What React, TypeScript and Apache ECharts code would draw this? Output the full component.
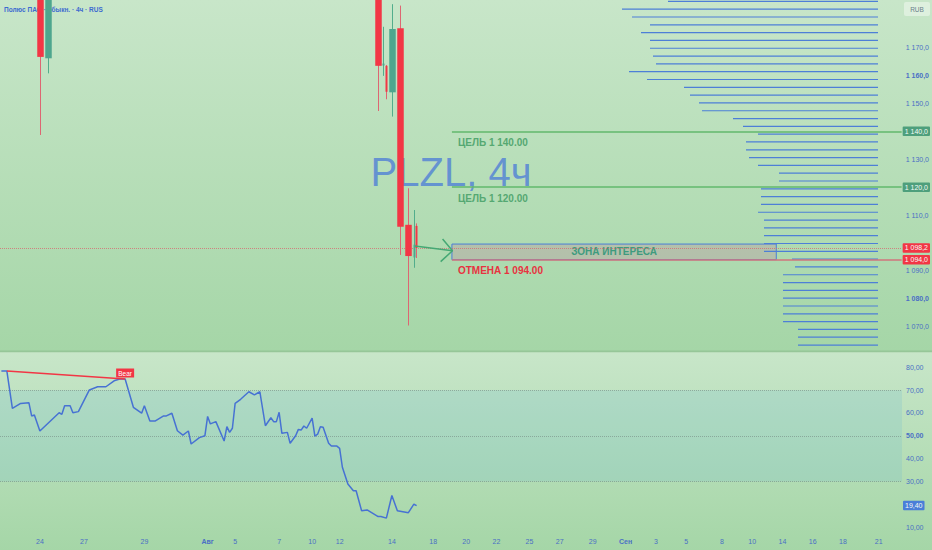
import React, { useEffect, useRef } from "react";
import * as echarts from "echarts";

const FONT = "'Liberation Sans', Arial, sans-serif";

// ---- time slots (4h bars) ----
const BAR_COUNT = 328;
const barSlots = Array.from({ length: BAR_COUNT }, (_, i) => `bar${i}`);
const dateLabels = ["24", "27", "29", "Авг", "5", "7", "10", "12", "14", "18", "20", "22", "25", "27", "29", "Сен", "3", "5", "8", "10", "14", "16", "18", "21"];
const dateLabelBars = [14, 30, 52, 75, 85, 101, 113, 123, 142, 157, 169, 180, 192, 203, 215, 227, 238, 249, 262, 273, 284, 295, 306, 319];
const boldDateLabels = ["Авг", "Сен"];

// ---- candles visible in the price window ----
const candleBars = [14, 17, 137, 139, 140, 142, 145, 148, 150, 151];
const candleOpen = [1195, 1166.2, 1193, 1163.6, 1163.5, 1154.0, 1177.0, 1106.5, 1094.8, 1106.1];
const candleClose = [1166.7, 1192, 1163.5, 1164.3, 1154.2, 1176.7, 1105.8, 1095.3, 1099.4, 1098.2];
const candleLow = [1138.7, 1160.8, 1147.3, 1159.9, 1151.5, 1145.3, 1095.7, 1070.4, 1091.1, 1094.6];
const candleHigh = [1205, 1198, 1197, 1177.5, 1163.8, 1185.6, 1185.1, 1119.6, 1111.8, 1107];
const thinCandleBars = [139, 140, 150, 151];

// ---- RSI ----
const rsiBars = [0, 2, 4, 7, 10, 11, 12, 14, 21, 22, 23, 25, 26, 28, 32, 35, 38, 41, 43, 45, 48, 51, 52, 54, 56, 59, 60, 62, 64, 66, 68, 69, 72, 74, 75, 76, 78, 81, 82, 83, 84, 85, 87, 90, 92, 94, 96, 98, 99, 100, 101, 102, 104, 105, 107, 108, 109, 110, 111, 113, 114, 115, 116, 117, 119, 120, 122, 123, 124, 126, 128, 129, 131, 133, 137, 138, 140, 142, 144, 148, 150, 151];
const rsiValues = [78.4, 78.4, 62.0, 64.2, 64.5, 58.7, 59.1, 52.1, 60.1, 59.4, 63.2, 63.2, 60.1, 60.6, 70.1, 71.5, 71.5, 74.1, 74.9, 74.9, 62.5, 59.9, 63.2, 56.5, 56.5, 58.7, 58.7, 59.9, 52.2, 50.3, 52.1, 46.4, 49.2, 50.0, 58.5, 55.2, 56.2, 47.7, 54.0, 51.5, 53.3, 64.2, 66.0, 69.3, 67.9, 69.3, 54.4, 57.9, 56.2, 56.2, 60.3, 51.1, 51.5, 46.7, 50.0, 52.8, 52.5, 54.3, 53.3, 57.7, 49.9, 50.7, 54.0, 53.7, 46.7, 45.5, 45.5, 44.5, 36.2, 28.9, 25.9, 25.9, 17.1, 17.5, 14.6, 14.6, 13.9, 23.8, 17.1, 16.3, 20.0, 19.4];
const bearBars = [2, 45];
const bearValues = [78.4, 74.9];
const lastRsi = 19.4;
const rsiTicks = [10, 30, 40, 50, 60, 70, 80];
const rsiLevels = [70, 50, 30];

// ---- price axis & drawings ----
const PRICE_MIN = 1060.9;
const PRICE_MAX = 1187.1;
const priceTicks = [1070, 1080, 1090, 1110, 1130, 1150, 1160, 1170];
const boldPriceTicks = [1160, 1080];
const targetPrices = [1140, 1120];
const stopPrice = 1094;
const lastPrice = 1098.2;
const zoneLow = 1094;
const zoneHigh = 1099.6;
const zoneFromBar = 164.4;
const zoneToBar = 282.4;
const arrowBars = [150.9, 164.6];
const arrowPrices = [1098.9, 1097.2];
const arrowHeadBars = [161.0, 164.6, 160.3];
const arrowHeadPrices = [1101.4, 1097.2, 1093.3];

// ---- volume profile ----
const PROFILE_AXIS_MAX = 878;
const profilePrices = [1186.6, 1183.8, 1181.0, 1178.2, 1175.4, 1172.6, 1169.8, 1167.0, 1164.2, 1161.4, 1158.6, 1155.8, 1153.0, 1150.2, 1147.4, 1144.6, 1141.8, 1139.0, 1136.2, 1133.4, 1130.6, 1127.8, 1125.0, 1122.2, 1119.4, 1116.6, 1113.8, 1111.0, 1108.2, 1105.4, 1102.6, 1099.8, 1097.0, 1094.2, 1091.4, 1088.6, 1085.8, 1083.0, 1080.2, 1077.4, 1074.6, 1071.8, 1069.0, 1066.2, 1063.4];
const profileVolumes = [210, 256, 246, 228, 237, 228, 228, 225, 222, 249, 231, 194, 188, 179, 176, 145, 135, 120, 132, 132, 129, 120, 99, 99, 117, 117, 117, 120, 114, 114, 114, 114, 114, 86, 83, 95, 95, 95, 95, 95, 95, 95, 80, 80, 80];

const UP = "#4ea68e";
const DOWN = "#f23645";
const UP_WICK = "#52ad8c";
const DOWN_WICK = "#dd6672";
const AXIS_TEXT = "#4a6fc5";
const TARGET_GREEN = "#62b86c";
const CLEAR = "rgba(0,0,0,0)";

function fmtPrice(v: number) {
  const th = Math.floor(v / 1000);
  const rest = v - th * 1000;
  const r = rest.toFixed(1).replace(".", ",");
  const pad = rest < 10 ? "00" : rest < 100 ? "0" : "";
  return `${th} ${pad}${r}`;
}

function candleItems(thin: boolean) {
  const out: number[][] = [];
  candleBars.forEach((b, i) => {
    if (thinCandleBars.includes(b) === thin) {
      out.push([b, candleOpen[i], candleClose[i], candleLow[i], candleHigh[i]]);
    }
  });
  return out;
}

function candleRenderer(bodyWidth: number) {
  return (_params: any, api: any) => {
    const bar = api.value(0);
    const open = api.value(1);
    const close = api.value(2);
    const low = api.value(3);
    const high = api.value(4);
    const pO = api.coord([bar, open]);
    const pC = api.coord([bar, close]);
    const pL = api.coord([bar, low]);
    const pH = api.coord([bar, high]);
    const up = close >= open;
    const x = Math.round(pO[0]) + 0.5;
    const top = Math.min(pO[1], pC[1]);
    const bottom = Math.max(pO[1], pC[1]);
    return {
      type: "group",
      children: [
        {
          type: "line",
          shape: { x1: x, y1: pH[1], x2: x, y2: pL[1] },
          style: { stroke: up ? UP_WICK : DOWN_WICK, lineWidth: 1 },
        },
        {
          type: "rect",
          shape: { x: x - bodyWidth / 2, y: top, width: bodyWidth, height: Math.max(1, bottom - top) },
          style: { fill: up ? UP : DOWN },
        },
      ],
    };
  };
}

function boxLabel(text: string, bg: string) {
  return {
    show: true,
    position: "end",
    distance: 1,
    formatter: text,
    backgroundColor: bg,
    color: "#f4fbf6",
    fontSize: 7,
    fontFamily: FONT,
    padding: [1.5, 2, 1, 2],
    borderRadius: 1,
  };
}

function drawingText(text: string, color: string) {
  return {
    show: true,
    position: "insideStartBottom",
    distance: 6,
    formatter: text,
    color,
    fontSize: 10,
    lineHeight: 10,
    fontWeight: "bold",
    fontFamily: FONT,
  };
}

export default function App() {
  const ref = useRef<HTMLDivElement>(null);

  useEffect(() => {
    if (!ref.current) return;
    const chart = echarts.init(ref.current, undefined, { renderer: "svg" });

    const option: any = {
      animation: false,
      textStyle: { fontFamily: FONT },
      grid: [
        { left: 0, top: 0, width: 902, height: 352 },
        { left: 0, top: 353, width: 902, height: 182 },
        { left: 0, top: 0, width: PROFILE_AXIS_MAX, height: 352 },
      ],
      xAxis: [
        { type: "category", gridIndex: 0, data: barSlots, show: false, boundaryGap: true },
        { type: "value", gridIndex: 0, min: 0, max: BAR_COUNT, show: false },
        {
          type: "category",
          gridIndex: 1,
          data: barSlots,
          boundaryGap: true,
          axisLine: { show: false },
          axisTick: { show: false },
          splitLine: { show: false },
          axisLabel: {
            interval: (index: number) => dateLabelBars.includes(index),
            margin: 3,
            fontSize: 7,
            color: AXIS_TEXT,
            fontFamily: FONT,
            formatter: (_v: string, index: number) => {
              const k = dateLabelBars.indexOf(index);
              if (k < 0) return "";
              const t = dateLabels[k];
              return boldDateLabels.includes(t) ? `{b|${t}}` : t;
            },
            rich: { b: { fontWeight: "bold", fontSize: 7, color: AXIS_TEXT, fontFamily: FONT } },
          },
        },
        { type: "value", gridIndex: 2, min: 0, max: PROFILE_AXIS_MAX, inverse: true, show: false },
      ],
      yAxis: [
        {
          type: "value",
          gridIndex: 0,
          position: "right",
          min: PRICE_MIN,
          max: PRICE_MAX,
          axisLine: { show: false },
          axisTick: { show: false },
          splitLine: { show: false },
          axisLabel: {
            customValues: priceTicks,
            margin: 4,
            fontSize: 7,
            color: AXIS_TEXT,
            fontFamily: FONT,
            formatter: (v: number) => (boldPriceTicks.includes(v) ? `{b|${fmtPrice(v)}}` : fmtPrice(v)),
            rich: { b: { fontWeight: "bold", fontSize: 7, color: AXIS_TEXT, fontFamily: FONT } },
          },
        },
        {
          type: "value",
          gridIndex: 1,
          position: "right",
          min: 6.5,
          max: 86.3,
          axisLine: { show: false },
          axisTick: { show: false },
          splitLine: { show: false },
          axisLabel: {
            customValues: rsiTicks,
            margin: 4,
            fontSize: 7,
            color: AXIS_TEXT,
            fontFamily: FONT,
            formatter: (v: number) => {
              const s = v.toFixed(2).replace(".", ",");
              return v === 50 ? `{b|${s}}` : s;
            },
            rich: { b: { fontWeight: "bold", fontSize: 7, color: AXIS_TEXT, fontFamily: FONT } },
          },
        },
        { type: "value", gridIndex: 2, min: PRICE_MIN, max: PRICE_MAX, show: false },
      ],
      graphic: [
        {
          type: "text",
          x: 451,
          y: 172,
          z: 0,
          silent: true,
          style: {
            text: "PLZL, 4ч",
            fill: "rgba(82,130,214,0.82)",
            fontSize: 40,
            lineHeight: 30,
            fontFamily: FONT,
            align: "center",
            verticalAlign: "middle",
          },
        },
        {
          type: "text",
          x: 4,
          y: 9,
          z: 0,
          style: {
            text: "Полюс ПАО · обыкн. · 4ч · RUS",
            fill: "#3d6bd0",
            fontSize: 6.5,
            fontWeight: "bold",
            fontFamily: FONT,
            verticalAlign: "middle",
          },
        },
        {
          type: "rect",
          shape: { x: 904, y: 2, width: 26, height: 14, r: 2 },
          style: { fill: "rgba(236,246,236,0.6)" },
        },
        {
          type: "text",
          x: 917,
          y: 9.5,
          style: {
            text: "RUB",
            fill: "#6a7f8a",
            fontSize: 6.5,
            fontFamily: FONT,
            align: "center",
            verticalAlign: "middle",
          },
        },
        {
          type: "rect",
          shape: { x: 0, y: 350.5, width: 932, height: 1.8 },
          style: { fill: "#96c698" },
        },
      ],
      series: [
        {
          type: "custom",
          name: "profile",
          xAxisIndex: 3,
          yAxisIndex: 2,
          z: 3,
          silent: true,
          data: profilePrices.map((p, i) => [profileVolumes[i], p]),
          encode: { x: 0, y: 1 },
          renderItem: (_params: any, api: any) => {
            const vol = api.value(0);
            const price = api.value(1);
            const a = api.coord([0, price]);
            const b = api.coord([vol, price]);
            return {
              type: "line",
              shape: { x1: a[0], y1: a[1], x2: b[0], y2: b[1] },
              style: { stroke: "#4d7fd7", lineWidth: 1.2 },
            };
          },
        },
        {
          type: "custom",
          name: "candles",
          xAxisIndex: 0,
          yAxisIndex: 0,
          z: 5,
          silent: true,
          clip: true,
          encode: { x: 0, y: [1, 2, 3, 4] },
          data: candleItems(false),
          renderItem: candleRenderer(6.5),
        },
        {
          type: "custom",
          name: "thinCandles",
          xAxisIndex: 0,
          yAxisIndex: 0,
          z: 5,
          silent: true,
          clip: true,
          encode: { x: 0, y: [1, 2, 3, 4] },
          data: candleItems(true),
          renderItem: candleRenderer(2),
        },
        {
          type: "line",
          name: "arrow",
          xAxisIndex: 1,
          yAxisIndex: 0,
          z: 6,
          symbol: "none",
          data: arrowBars.map((b, i) => [b, arrowPrices[i]]),
          lineStyle: { color: "#45a874", width: 1.5 },
          markArea: {
            silent: true,
            data: [
              [
                {
                  coord: [zoneFromBar, zoneLow],
                  itemStyle: {
                    color: "rgba(190,140,160,0.33)",
                    borderColor: "#4a7fd6",
                    borderWidth: 1,
                  },
                  label: {
                    show: true,
                    position: "inside",
                    formatter: "ЗОНА ИНТЕРЕСА",
                    color: "#3e9b7e",
                    fontSize: 10,
                    fontWeight: "bold",
                    fontFamily: FONT,
                  },
                },
                { coord: [zoneToBar, zoneHigh] },
              ],
            ],
          },
          markLine: {
            silent: true,
            symbol: ["none", "none"],
            label: { show: false },
            data: [
              [
                {
                  coord: [0, lastPrice],
                  lineStyle: { color: "rgba(215,100,110,0.75)", width: 1, type: "dotted" },
                  label: boxLabel(fmtPrice(lastPrice), DOWN),
                },
                { coord: [BAR_COUNT, lastPrice] },
              ],
              ...targetPrices.map((p) => [
                {
                  coord: [zoneFromBar, p],
                  lineStyle: { color: TARGET_GREEN, width: 1.5, type: "solid" },
                  label: boxLabel(fmtPrice(p), "#4e9f7c"),
                },
                { coord: [BAR_COUNT, p] },
              ]),
              ...targetPrices.map((p) => [
                {
                  coord: [zoneFromBar, p],
                  lineStyle: { color: CLEAR, width: 1 },
                  label: drawingText(`ЦЕЛЬ ${fmtPrice(p).replace(",", ".")}0`, "#55a872"),
                },
                { coord: [BAR_COUNT, p] },
              ]),
              [
                {
                  coord: [zoneFromBar, stopPrice],
                  lineStyle: { color: "#d0747c", width: 1.5, type: "solid" },
                  label: boxLabel(fmtPrice(stopPrice), DOWN),
                },
                { coord: [BAR_COUNT, stopPrice] },
              ],
              [
                {
                  coord: [zoneFromBar, stopPrice],
                  lineStyle: { color: CLEAR, width: 1 },
                  label: drawingText(`ОТМЕНА ${fmtPrice(stopPrice).replace(",", ".")}0`, "#e8323f"),
                },
                { coord: [BAR_COUNT, stopPrice] },
              ],
            ],
          },
        },
        {
          type: "line",
          name: "arrowHead",
          xAxisIndex: 1,
          yAxisIndex: 0,
          z: 6,
          symbol: "none",
          data: arrowHeadBars.map((b, i) => [b, arrowHeadPrices[i]]),
          lineStyle: { color: "#45a874", width: 1.5 },
        },
        {
          type: "line",
          name: "RSI",
          xAxisIndex: 2,
          yAxisIndex: 1,
          z: 5,
          symbol: "none",
          data: rsiBars.map((b, i) => [b, rsiValues[i]]),
          lineStyle: { color: "#4772d3", width: 1.5 },
          markArea: {
            silent: true,
            data: [[{ yAxis: 30, itemStyle: { color: "rgba(110,185,210,0.22)" } }, { yAxis: 70 }]],
          },
          markLine: {
            silent: true,
            symbol: ["none", "none"],
            label: { show: false },
            data: [
              ...rsiLevels.map((v) => ({
                yAxis: v,
                lineStyle: { color: "rgba(120,145,135,0.65)", width: 1, type: "dotted" },
              })),
              {
                yAxis: lastRsi,
                lineStyle: { color: CLEAR, width: 1 },
                label: boxLabel(lastRsi.toFixed(2).replace(".", ","), "#4a7ed8"),
              },
            ],
          },
        },
        {
          type: "line",
          name: "Bear",
          xAxisIndex: 2,
          yAxisIndex: 1,
          z: 6,
          symbol: "none",
          data: bearBars.map((b, i) => [b, bearValues[i]]),
          lineStyle: { color: DOWN, width: 1.5 },
          markPoint: {
            silent: true,
            data: [
              {
                coord: [bearBars[1], bearValues[1]],
                symbol: "rect",
                symbolSize: [18, 9],
                symbolOffset: [0, -6],
                itemStyle: { color: DOWN },
                label: {
                  show: true,
                  position: "inside",
                  formatter: "Bear",
                  color: "#ffffff",
                  fontSize: 6.5,
                  fontFamily: FONT,
                },
              },
            ],
          },
        },
      ],
    };

    chart.setOption(option);
    return () => chart.dispose();
  }, []);

  const paneBg = "linear-gradient(to bottom, #c8e6c9, #a5d6a7)";
  return (
    <div style={{ position: "fixed", left: 0, top: 0, width: 932, height: 550, overflow: "hidden" }}>
      <div style={{ position: "absolute", left: 0, top: 0, width: 932, height: 351, background: paneBg }} />
      <div style={{ position: "absolute", left: 0, top: 351, width: 932, height: 199, background: paneBg }} />
      <div ref={ref} style={{ position: "absolute", left: 0, top: 0, width: 932, height: 550 }} />
    </div>
  );
}
